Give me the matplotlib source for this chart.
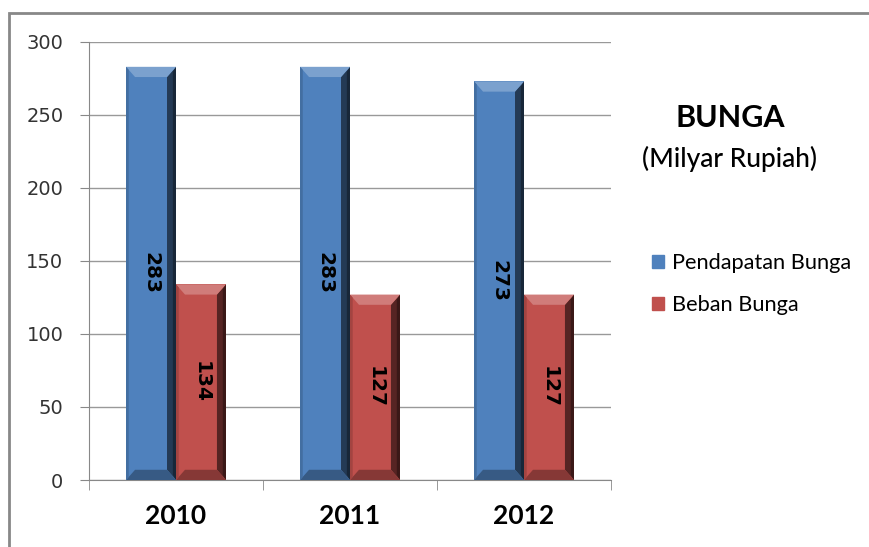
import matplotlib.pyplot as plt
import matplotlib.patches as mpatches
import numpy as np

years = ['2010', '2011', '2012']
pendapatan = [283, 283, 273]
beban = [134, 127, 127]
series_names = ['Pendapatan Bunga', 'Beban Bunga']
y_ticks = [0, 50, 100, 150, 200, 250, 300]

BLUE = '#4f81bd'
RED = '#c0504d'
TXT = ['Lato', 'DejaVu Sans']


def shade(ax, patch, color):
    """Bevel ala Excel: sisi kanan gelap, atas terang, bawah gelap"""
    x0, y0 = patch.get_x(), patch.get_y()
    w, h = patch.get_width(), patch.get_height()
    # ukuran bevel dalam data unit (kira-kira 10 px)
    bx = w * 0.18
    by = 7.0
    c = np.array(plt.matplotlib.colors.to_rgb(color))
    dark = c * 0.45
    darker = c * 0.3
    light = np.clip(c + (1 - c) * 0.25, 0, 1)
    # kanan
    ax.fill([x0 + w - bx, x0 + w, x0 + w, x0 + w - bx],
            [y0 + by, y0, y0 + h, y0 + h - by], color=dark, lw=0, zorder=3)
    ax.fill([x0 + w - bx * 0.35, x0 + w, x0 + w, x0 + w - bx * 0.35],
            [y0 + by * 0.5, y0, y0 + h, y0 + h - by * 0.5], color=darker, lw=0, zorder=3)
    # atas
    ax.fill([x0, x0 + w, x0 + w - bx, x0 + bx],
            [y0 + h, y0 + h, y0 + h - by, y0 + h - by], color=light, lw=0, zorder=3)
    # bawah
    ax.fill([x0, x0 + w, x0 + w - bx, x0 + bx],
            [y0, y0, y0 + by, y0 + by], color=c * 0.7, lw=0, zorder=3)
    # kiri tipis
    ax.fill([x0, x0 + bx * 0.3, x0 + bx * 0.3, x0],
            [y0, y0 + by * 0.3, y0 + h - by * 0.3, y0 + h], color=c * 0.85, lw=0, zorder=3)


fig = plt.figure(figsize=(8.69, 5.47), dpi=100)
ax = fig.add_axes([89 / 869, 1 - 480 / 547, 522 / 869, 438 / 547])

x = np.arange(len(years))
bw = 0.287
b1 = ax.bar(x - bw / 2, pendapatan, bw, color=BLUE, zorder=2, label=series_names[0])
b2 = ax.bar(x + bw / 2, beban, bw, color=RED, zorder=2, label=series_names[1])

for p in b1:
    shade(ax, p, BLUE)
for p in b2:
    shade(ax, p, RED)

for bars, vals in ((b1, pendapatan), (b2, beban)):
    for p, v in zip(bars, vals):
        ax.text(p.get_x() + p.get_width() / 2, v / 2, str(v), rotation=270,
                ha='center', va='center', fontsize=14.5, fontweight='bold',
                color='black', zorder=5)

ax.set_xlim(-0.5, len(years) - 0.5)
ax.set_ylim(0, 300)
ax.set_yticks(y_ticks)
ax.set_yticklabels([str(t) for t in y_ticks], fontsize=14, color='#333333')
ax.set_xticks(x)
ax.set_xticklabels(years, fontsize=19, fontweight='bold', family=TXT)
ax.set_xticks(np.arange(len(years) + 1) - 0.5, minor=True)
ax.tick_params(axis='x', which='major', length=0, pad=17)
ax.tick_params(axis='x', which='minor', length=7, color='#888888')
ax.tick_params(axis='y', length=6.5, color='#888888', pad=12)

ax.grid(axis='y', color='#999999', lw=1, zorder=0)
ax.set_axisbelow(True)
for s in ['top', 'right']:
    ax.spines[s].set_visible(False)
ax.spines['left'].set_color('#888888')
ax.spines['bottom'].set_color('#888888')

# judul di kanan
fig.text(730 / 869, 1 - 118 / 547, 'BUNGA', ha='center', va='center', fontsize=22,
         fontweight='bold', family=TXT)
fig.text(730 / 869, 1 - 159 / 547, '(Milyar Rupiah)', ha='center', va='center', fontsize=19,
         fontweight='medium', family=TXT)

leg = fig.legend(handles=[mpatches.Patch(color=BLUE, label=series_names[0]),
                          mpatches.Patch(color=RED, label=series_names[1])],
                 loc='center left', bbox_to_anchor=(652 / 869, 1 - 284 / 547), frameon=False,
                 prop={'family': TXT, 'size': 15.7}, borderpad=0, borderaxespad=0,
                 handlelength=0.55, handleheight=0.55, handletextpad=0.37, labelspacing=1.0)

# bingkai luar
fig.add_artist(mpatches.Rectangle((8.5 / 869, -0.1), 1.2, 1.1 - 12.5 / 547,
                                  transform=fig.transFigure, fill=False,
                                  edgecolor='#888888', lw=2))

fig.savefig('out.png', dpi=100)
